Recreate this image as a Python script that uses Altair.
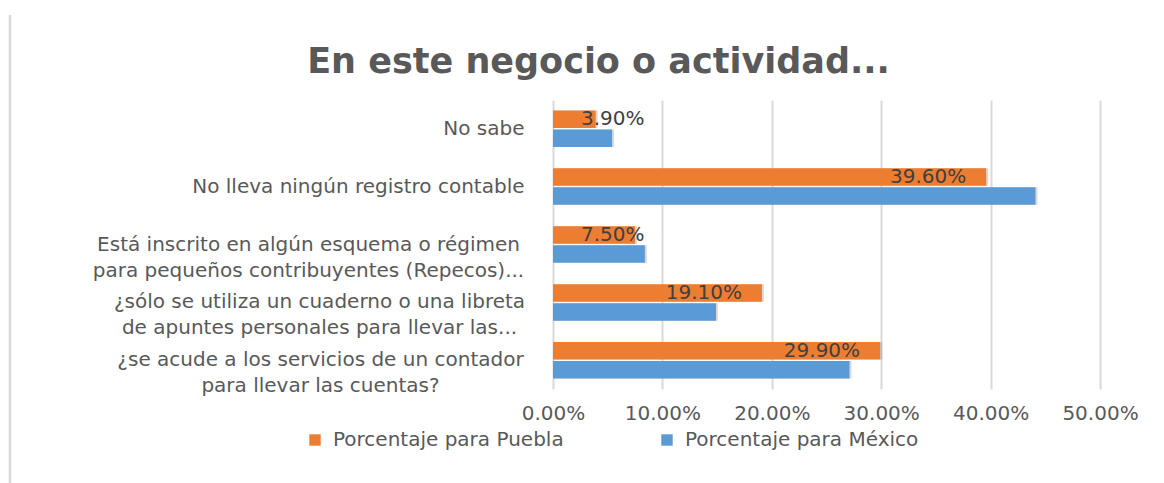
import altair as alt
import pandas as pd

categories = [
    "No sabe",
    "No lleva ningún registro contable",
    "Está inscrito en algún esquema o régimen|para pequeños contribuyentes (Repecos)...",
    "¿sólo se utiliza un cuaderno o una libreta|de apuntes personales para llevar las...",
    "¿se acude a los servicios de un contador|para llevar las cuentas?",
]
puebla = [0.039, 0.396, 0.075, 0.191, 0.299]
mexico = [0.054, 0.441, 0.084, 0.149, 0.271]
series = ["Porcentaje para Puebla", "Porcentaje para México"]
colors = ["#ED7D31", "#5B9BD5"]
x_ticks = [0, 0.1, 0.2, 0.3, 0.4, 0.5]
title_text = "En este negocio o actividad..."

rows = []
for c, p, m in zip(categories, puebla, mexico):
    rows.append({"categoria": c, "serie": series[0], "valor": p})
    rows.append({"categoria": c, "serie": series[1], "valor": m})
df = pd.DataFrame(rows)

FONT = "DejaVu Sans"
GRAY = "#595959"
W, H = 547, 289
PAD = 29

# multi-line labels: lines centred on each other, block right-aligned to the axis
half_widths = [(categories[2], 216), (categories[3], 205), (categories[4], 204)]
pad_cond = {
    "condition": [{"test": f"datum.value == '{k}'", "value": PAD + v} for k, v in half_widths],
    "value": PAD,
}
align_cond = {
    "condition": {"test": "indexof(datum.value, '|') >= 0", "value": "center"},
    "value": "right",
}

y_enc = alt.Y(
    "categoria:N", sort=categories, title=None,
    scale=alt.Scale(paddingInner=0.37, paddingOuter=0.18),
    axis=alt.Axis(labelExpr="split(datum.label, '|')", labelFont=FONT, labelFontSize=20,
                  labelColor=GRAY, labelPadding=pad_cond, labelAlign=align_cond,
                  labelLineHeight=26, ticks=False, domain=False, labelLimit=700, grid=False),
)
yoff_enc = alt.YOffset("serie:N", sort=series, scale=alt.Scale(domain=series, paddingInner=0.08))
x_enc = alt.X(
    "valor:Q", title=None, scale=alt.Scale(domain=[0, 0.5]),
    axis=alt.Axis(values=x_ticks, format=".2%", labelFont=FONT, labelFontSize=20, labelColor=GRAY,
                  grid=True, gridColor="#d9d9d9", gridWidth=2, domain=False, ticks=False,
                  labelPadding=14, labelFlush=False, labelOverlap=False),
)
color_enc = alt.Color(
    "serie:N", sort=series,
    scale=alt.Scale(domain=series, range=colors),
    legend=alt.Legend(orient="none", legendX=-248, legendY=330, direction="horizontal", title=None,
                      symbolType="square", symbolSize=130, symbolStrokeWidth=0,
                      labelFont=FONT, labelFontSize=20, labelColor=GRAY, columnPadding=93,
                      labelOffset=8, padding=0, labelLimit=500),
)

base = alt.Chart(df)

shadow = base.mark_bar(color="#000000", opacity=0.15, yOffset=3, xOffset=2).encode(
    x=x_enc, y=y_enc, yOffset=yoff_enc
)
bars = base.mark_bar().encode(x=x_enc, y=y_enc, yOffset=yoff_enc, color=color_enc)
labels = base.transform_filter(
    alt.datum.serie == series[0]
).transform_calculate(
    pos="max(datum.valor, 0.102)"
).mark_text(align="right", baseline="middle", dx=-20, font=FONT, fontSize=20, color="#404040").encode(
    x=alt.X("pos:Q"), y=y_enc, yOffset=yoff_enc, text=alt.Text("valor:Q", format=".2%")
)

frame = alt.Chart(pd.DataFrame({"a": [0]})).mark_rule(color="#d9d9d9", strokeWidth=2.5).encode(
    x=alt.value(-543), y=alt.value(-85), y2=alt.value(384)
)

chart = alt.layer(frame, shadow, bars, labels).properties(
    width=W, height=H,
    padding={"left": 0, "top": 5, "right": 5, "bottom": 0},
    title=alt.TitleParams(title_text, font=FONT, fontSize=35, fontWeight="bold", color=GRAY,
                          anchor="middle", frame="group", dx=-228, offset=-66),
).configure_view(stroke=None)

chart.save("out.html", embed_options={"renderer": "svg", "actions": False})
